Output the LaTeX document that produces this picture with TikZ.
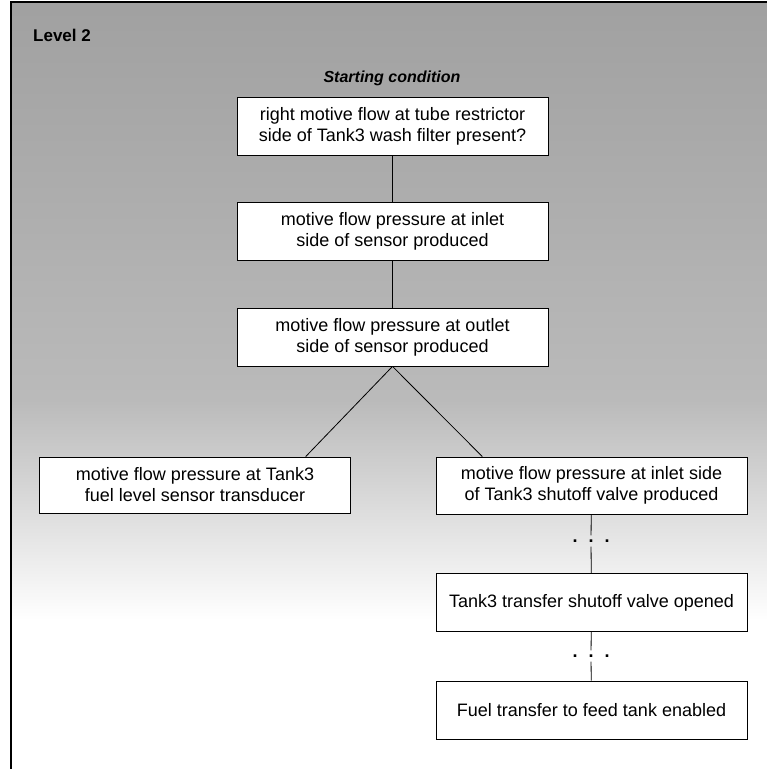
\documentclass[tikz,border=0pt]{standalone}
\usepackage{fontspec}
\setmainfont{Liberation Sans}
\usetikzlibrary{calc,positioning}

\tikzset{
  stepbox/.style={draw, line width=0.8pt, fill=white, minimum width=311pt, minimum height=58pt, align=center, inner sep=2pt},
  link/.style={line width=0.8pt},
  gapdots/.style={inner sep=4pt, font=\fontsize{18}{21}\selectfont\bfseries}
}

\begin{document}
\begin{tikzpicture}[x=1pt, y=-1pt, every node/.style={font=\fontsize{18}{21}\selectfont}]
      \useasboundingbox (0, 0) rectangle (767, 769);
      \fill[white] (0, 0) rectangle (767, 769);
      % halftone background, darker at the top
      \shade[top color=black!37, bottom color=black!27] (11, 2) rectangle (767, 400);
      \shade[top color=black!27, bottom color=white] (11, 400) rectangle (767, 620);
      \draw[line width=1.6pt] (11, 769) -- (11, 2) -- (767, 2);

      \node[font=\fontsize{17}{20}\selectfont\bfseries] (lvl) at (62, 35) {Level 2};
      \node[font=\fontsize{16}{20}\selectfont\bfseries\itshape] (start) at (392, 78) {Starting condition};

      \node[stepbox] (cond) at (392.5, 126.5) {right motive flow at tube restrictor\\side of Tank3 wash filter present?};
      \node[stepbox] (inlet) at (392.5, 231.5) {motive flow pressure at inlet\\side of sensor produced};
      \node[stepbox] (outlet) at (392.5, 337) {motive flow pressure at outlet\\side of sensor produced};
      \node[stepbox, minimum height=56pt] (level) at (195, 485) {motive flow pressure at Tank3\\fuel level sensor transducer};
      \node[stepbox, minimum height=57pt] (valve) at (591.5, 485.5) {motive flow pressure at inlet side\\of Tank3 shutoff valve produced};
      \node[stepbox] (opened) at (591.5, 602.5) {Tank3 transfer shutoff valve opened};
      \node[stepbox] (feed) at (591.5, 710) {Fuel transfer to feed tank enabled};

      \node[gapdots] (dotsA) at (591, 541) {.\hspace{11pt}.\hspace{11pt}.};
      \node[gapdots] (dotsB) at (591, 656) {.\hspace{11pt}.\hspace{11pt}.};

      \draw[link] (cond) -- (inlet);
      \draw[link] (inlet) -- (outlet);
      \draw[link] (outlet.south) -- ($(level.north)!0.71!(level.north east)$);
      \draw[link] (outlet.south) -- ($(valve.north)!0.70!(valve.north west)$);
      \draw[link] (valve) -- (dotsA);
      \draw[link] (dotsA) -- (opened);
      \draw[link] (opened) -- (dotsB);
      \draw[link] (dotsB) -- (feed);
\end{tikzpicture}
\end{document}
